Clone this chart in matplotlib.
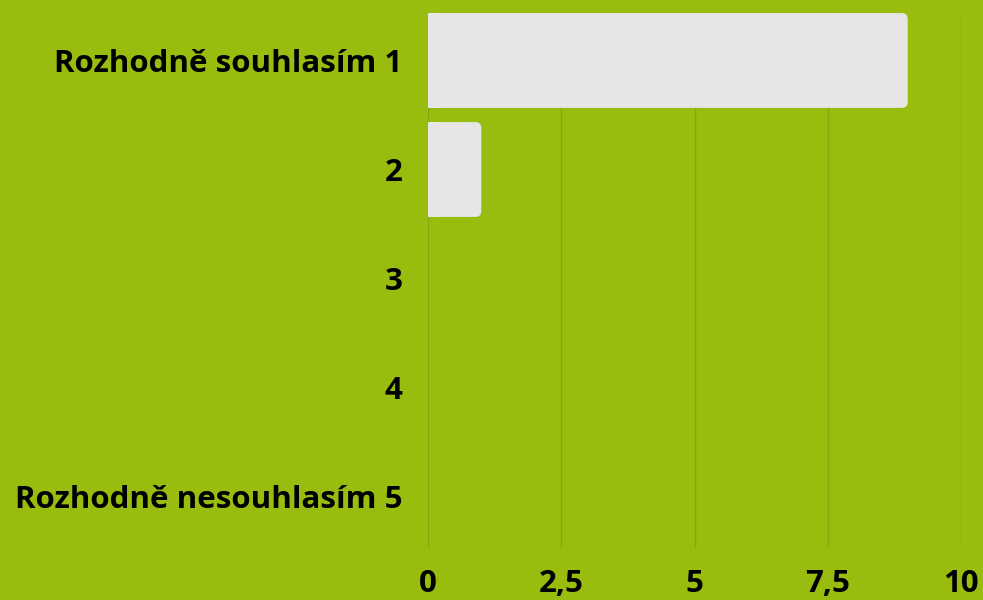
import matplotlib
matplotlib.use("Agg")
import matplotlib.pyplot as plt
from matplotlib.patches import FancyBboxPatch, Rectangle
from matplotlib.ticker import FuncFormatter

categories = ["Rozhodně souhlasím 1", "2", "3", "4", "Rozhodně nesouhlasím 5"]
values = [9, 1, 0, 0, 0]
xticks = [0, 2.5, 5, 7.5, 10]

BG = "#98bd0f"
BAR = "#e6e6e6"
GRID = "#86a80c"

plt.rcParams['font.family'] = ['Open Sans', 'DejaVu Sans']

W, H = 983, 600
fig = plt.figure(figsize=(W/100, H/100), dpi=100, facecolor=BG)
top_px, bot_px = 6, 551
left_px, right_px = 428, 961
ax = fig.add_axes([left_px/W, 1-bot_px/H, (right_px-left_px)/W, (bot_px-top_px)/H])
ax.set_facecolor(BG)

ax.set_xlim(0, 10)
ax.set_ylim(len(categories)-0.5, -0.5)

bar_h = 0.87
px_per_x = (right_px-left_px)/10
px_per_y = (bot_px-top_px)/len(categories)
r = 6/px_per_x
for i, v in enumerate(values):
    if v <= 0:
        continue
    y0 = i - bar_h/2
    p = FancyBboxPatch((0, y0), v, bar_h,
                       boxstyle=f"round,pad=0,rounding_size={r}",
                       mutation_aspect=px_per_x/px_per_y,
                       facecolor=BAR, edgecolor="none", zorder=3)
    ax.add_patch(p)
    ax.add_patch(Rectangle((0, y0), min(v, 2*r), bar_h,
                           facecolor=BAR, edgecolor="none", zorder=3))

# vertical gridlines (slightly shorter than the axes band)
gy0 = (bot_px-546)/(bot_px-top_px)
gy1 = (bot_px-12)/(bot_px-top_px)
for t in xticks:
    ax.axvline(t, ymin=gy0, ymax=gy1, color=GRID, linewidth=1, zorder=1)

ax.set_xticks(xticks)
ax.xaxis.set_major_formatter(FuncFormatter(lambda x, p: (f"{x:g}").replace(".", ",")))
ax.set_yticks(range(len(categories)))
ax.set_yticklabels(categories)
ax.tick_params(axis='both', length=0, labelsize=22.5, colors='black')
ax.tick_params(axis='y', pad=18.5)
ax.tick_params(axis='x', pad=13)
for lab in ax.get_xticklabels() + ax.get_yticklabels():
    lab.set_fontweight('bold')

for s in ax.spines.values():
    s.set_visible(False)

fig.savefig("out.png", dpi=100, facecolor=BG)
